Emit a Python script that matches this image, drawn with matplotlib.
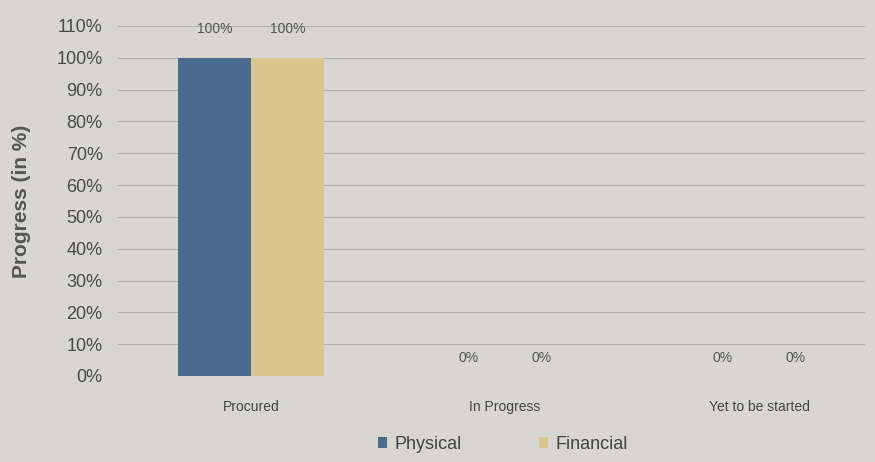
import matplotlib.pyplot as plt
import numpy as np

plt.rcParams['font.family'] = ['Liberation Sans', 'DejaVu Sans']

categories = ["Procured", "In Progress", "Yet to be started"]
physical = [100, 0, 0]
financial = [100, 0, 0]
y_ticks = list(range(0, 111, 10))

bg = '#d7d6d1'
blue = '#4b6b8e'
tan = '#d9c68f'

fig = plt.figure(figsize=(8.75, 4.62), dpi=100, facecolor=bg)
# plot area roughly x 118..865, y 26..376 px
ax = fig.add_axes([118 / 875, 1 - 376 / 462, 747 / 875, 350 / 462], facecolor=bg)

x = np.arange(len(categories))
w = 0.287
b1 = ax.bar(x - w / 2, physical, w, color=blue, label="Physical", zorder=3)
b2 = ax.bar(x + w / 2, financial, w, color=tan, label="Financial", zorder=3)

for bars in (b1, b2):
    for r in bars:
        h = r.get_height()
        ax.annotate(f"{h:g}%", (r.get_x() + r.get_width() / 2, h),
                    xytext=(0, 8 if h == 0 else 16), textcoords='offset points',
                    ha='center', va='bottom', fontsize=10, color='#555555')

ax.set_ylim(0, 110)
ax.set_xlim(-0.524, 2.417)
ax.set_yticks(y_ticks)
ax.set_yticklabels([f"{t}%" for t in y_ticks], fontsize=13, color='#4a4a4a')
ax.set_xticks(x)
ax.set_xticklabels(categories, fontsize=10, color='#444444')
ax.tick_params(axis='y', length=0, pad=11)
ax.tick_params(axis='x', length=0, pad=17)
ax.grid(axis='y', color='#b3b2ad', linewidth=0.8, zorder=0)
for s in ax.spines.values():
    s.set_visible(False)
ax.set_ylabel("Progress (in %)", fontsize=15, fontweight='bold', color='#555555', labelpad=18)

ax.legend(loc='upper center', bbox_to_anchor=(0.515, -0.125), ncol=2, frameon=False,
          fontsize=13, handlelength=0.5, handleheight=0.5, columnspacing=4.3,
          handletextpad=0.4, labelcolor='#444444')

fig.savefig("out.png", dpi=100, facecolor=bg)
